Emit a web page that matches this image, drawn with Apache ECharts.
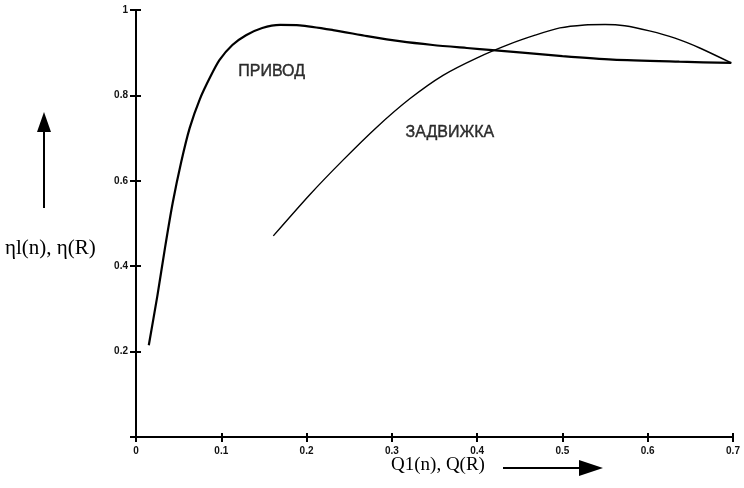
<!DOCTYPE html>
<html>
<head>
<meta charset="utf-8">
<script src="https://cdn.jsdelivr.net/npm/echarts@6/dist/echarts.min.js"></script>
<style>html,body{margin:0;padding:0;background:#fff}#c{width:744px;height:488px}</style>
</head>
<body>
<div id="c"></div>
<script>
const xTicks = [0, 0.1, 0.2, 0.3, 0.4, 0.5, 0.6, 0.7];
const yTicks = [0, 0.2, 0.4, 0.6, 0.8, 1];

const privodX = [0.015, 0.025, 0.034, 0.043, 0.053, 0.063, 0.075, 0.087, 0.098, 0.113, 0.129, 0.148, 0.169, 0.192, 0.231, 0.271, 0.309, 0.348, 0.388, 0.418, 0.453, 0.500, 0.559, 0.637, 0.698];
const privodY = [0.215, 0.330, 0.443, 0.548, 0.644, 0.724, 0.792, 0.843, 0.883, 0.918, 0.941, 0.958, 0.965, 0.964, 0.953, 0.939, 0.927, 0.918, 0.911, 0.906, 0.900, 0.892, 0.884, 0.879, 0.876];

const zadX = [0.161, 0.204, 0.243, 0.282, 0.321, 0.360, 0.400, 0.438, 0.468, 0.497, 0.526, 0.550, 0.573, 0.602, 0.632, 0.661, 0.698];
const zadY = [0.471, 0.568, 0.649, 0.725, 0.792, 0.847, 0.888, 0.920, 0.941, 0.958, 0.965, 0.966, 0.963, 0.951, 0.934, 0.911, 0.876];

const labelNames = ['ПРИВОД', 'ЗАДВИЖКА'];
const labelX = [0.159, 0.368];
const labelY = [0.855, 0.712];

const xName = 'Q1(n), Q(R)';
const yName = 'ηl(n), η(R)';

const chart = echarts.init(document.getElementById('c'), null, {renderer: 'canvas'});
const zip = (a, b) => a.map((v, i) => [v, b[i]]);

const tickFont = {color: '#111', fontSize: 10, fontFamily: 'Liberation Sans, Arial, sans-serif', fontWeight: 'bold'};
const xBase = {type: 'value', min: xTicks[0], max: xTicks[xTicks.length - 1], interval: 0.1, splitLine: {show: false}};
const yBase = {type: 'value', min: yTicks[0], max: yTicks[yTicks.length - 1], interval: 0.2, splitLine: {show: false}};

chart.setOption({
  animation: false,
  backgroundColor: '#fff',
  grid: {left: 136, right: 11, top: 10, bottom: 51},
  xAxis: [
    Object.assign({}, xBase, {
      axisLine: {show: true, lineStyle: {color: '#000', width: 2}},
      axisTick: {show: true, length: 5, lineStyle: {color: '#000', width: 2}},
      axisLabel: Object.assign({margin: 9, formatter: v => String(v)}, tickFont)
    }),
    Object.assign({}, xBase, {
      position: 'bottom',
      axisLine: {show: false},
      axisTick: {show: true, inside: true, length: 4, lineStyle: {color: '#000', width: 2}},
      axisLabel: {show: false}
    })
  ],
  yAxis: [
    Object.assign({}, yBase, {
      axisLine: {show: true, lineStyle: {color: '#000', width: 2}},
      axisTick: {show: true, length: 6, lineStyle: {color: '#000', width: 2}},
      axisLabel: Object.assign({margin: 8, formatter: v => v === 0 ? '' : String(v)}, tickFont)
    }),
    Object.assign({}, yBase, {
      position: 'left',
      axisLine: {show: false},
      axisTick: {show: true, inside: true, length: 5, lineStyle: {color: '#000', width: 2}},
      axisLabel: {show: false}
    })
  ],
  series: [
    {
      type: 'line', name: labelNames[0], data: zip(privodX, privodY), smooth: 0.25,
      symbol: 'none', lineStyle: {color: '#000', width: 2.2}
    },
    {
      type: 'line', name: labelNames[1], data: zip(zadX, zadY), smooth: 0.25,
      symbol: 'none', lineStyle: {color: '#000', width: 1.4}
    },
    {
      type: 'scatter', symbolSize: 0, silent: true,
      data: labelNames.map((n, i) => ({value: [labelX[i], labelY[i]], name: n})),
      label: {show: true, position: 'inside', formatter: p => p.name, color: '#000',
        textBorderColor: '#000', textBorderWidth: 0.4,
        fontSize: 16, fontFamily: 'Liberation Sans, Arial, sans-serif'}
    }
  ],
  graphic: [
    {type: 'text', left: 5, top: 238, style: {text: yName, font: '21px "Liberation Serif", "Times New Roman", serif', fill: '#000'}},
    {type: 'line', shape: {x1: 44, y1: 208, x2: 44, y2: 128}, style: {stroke: '#000', lineWidth: 2}},
    {type: 'polygon', shape: {points: [[44, 112], [37, 132], [51, 132]]}, style: {fill: '#000'}},
    {type: 'text', left: 391, top: 456, style: {text: xName, font: '19px "Liberation Serif", "Times New Roman", serif', fill: '#000'}},
    {type: 'line', shape: {x1: 503, y1: 468, x2: 582, y2: 468}, style: {stroke: '#000', lineWidth: 2}},
    {type: 'polygon', shape: {points: [[603, 468], [579, 460], [579, 476]]}, style: {fill: '#000'}}
  ]
});
</script>
</body>
</html>
